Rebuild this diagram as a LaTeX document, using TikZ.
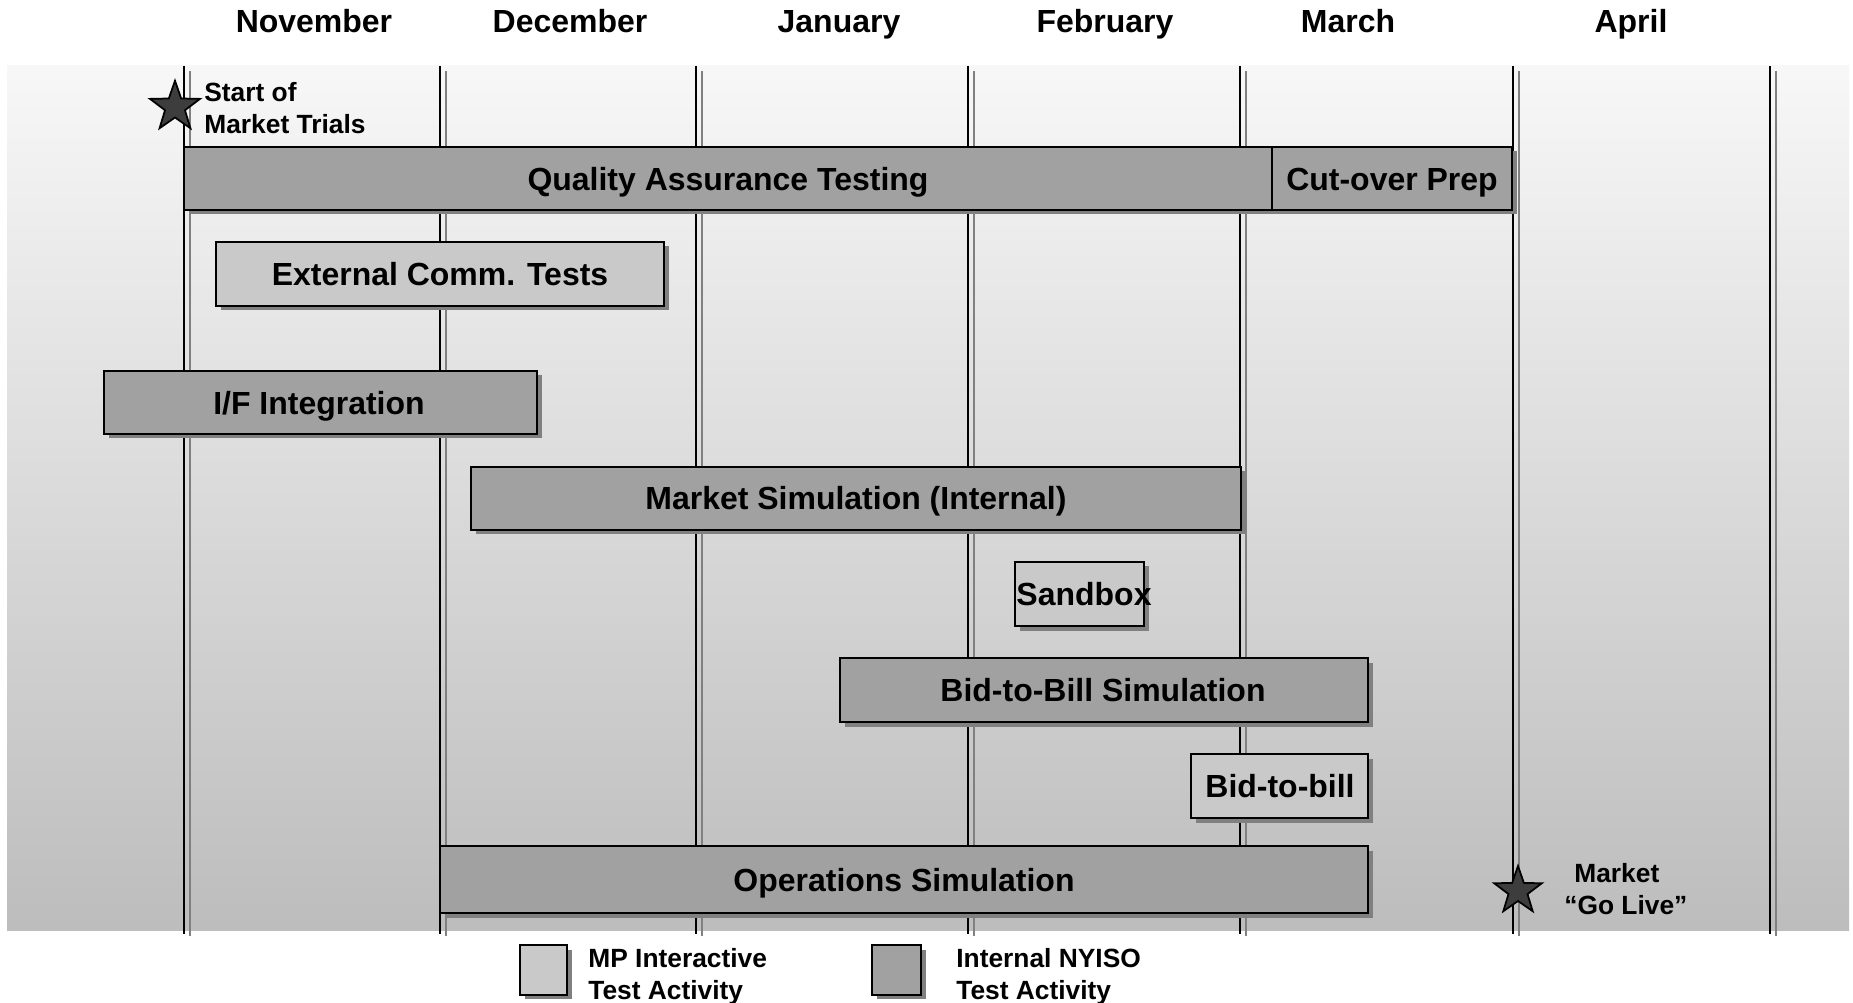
\documentclass[tikz,border=0pt]{standalone}
\usepackage{fontspec}
\setmainfont{Liberation Sans}
\usetikzlibrary{shapes.geometric,shadows}
\definecolor{barD}{gray}{0.63}
\definecolor{barL}{gray}{0.79}
\definecolor{panTop}{gray}{0.97}
\definecolor{panBot}{gray}{0.74}
\definecolor{starC}{gray}{0.24}

\begin{document}
\begin{tikzpicture}[x=0.02cm, y=-0.02cm,
    month/.style={font=\bfseries\fontsize{18.2}{22}\selectfont, inner sep=0pt, text height=13.1pt, text depth=0pt},
    bartext/.style={font=\bfseries\fontsize{18.2}{22}\selectfont, inner sep=0pt, text height=13.1pt, text depth=0pt},
    note/.style={font=\bfseries\fontsize{15}{18.2}\selectfont, align=left, anchor=west, inner sep=0pt},
    darkbar/.style={draw=black, line width=1.2pt, fill=barD,
        drop shadow={shadow xshift=0.09cm, shadow yshift=-0.09cm, fill=black!50, opacity=1}},
    lightbar/.style={darkbar, fill=barL},
    mstar/.style={star, star points=5, star point ratio=2.5, draw=black, line width=1pt, fill=starC, inner sep=0pt}]
    \useasboundingbox (0,0) rectangle (1853,1003);
    \fill[white] (0,0) rectangle (1853,1003);
    % panel
    \shade[top color=panTop, bottom color=panBot] (7,66) rectangle (1849,930);
    % month separators
    \foreach \mx in {184,440,696,968,1240,1513,1770} {
        \draw[black, line width=0.9pt] (\mx,66) -- (\mx,934);
        \draw[gray, line width=1pt] (\mx+6,71) -- (\mx+6,936);
    }
    % months
    \node[month] (nov) at (314,21) {November};
    \node[month] (dec) at (570,21) {December};
    \node[month] (jan) at (839,21) {January};
    \node[month] (feb) at (1105,21) {February};
    \node[month] (mar) at (1348,21) {March};
    \node[month] (apr) at (1631,21) {April};
    % activities
    \draw[darkbar] (184,147) rectangle (1272,210);
    \node[bartext] (qa) at (728,178.5) {Quality Assurance Testing};
    \draw[darkbar] (1272,147) rectangle (1512,210);
    \node[bartext] (cut) at (1392,178.5) {Cut-over Prep};
    \draw[lightbar] (216,242) rectangle (664,306);
    \node[bartext] (ext) at (440,274) {External Comm. Tests};
    \draw[darkbar] (104,371) rectangle (537,434);
    \node[bartext] (ifi) at (319,402.5) {I/F Integration};
    \draw[darkbar] (471,467) rectangle (1241,530);
    \node[bartext] (msim) at (856,498) {Market Simulation (Internal)};
    \draw[lightbar] (1015,562) rectangle (1144,626);
    \node[bartext] (sand) at (1084,594) {Sandbox};
    \draw[darkbar] (840,658) rectangle (1368,722);
    \node[bartext] (bbsim) at (1103,690) {Bid-to-Bill Simulation};
    \draw[lightbar] (1191,754) rectangle (1368,818);
    \node[bartext] (bb) at (1280,786) {Bid-to-bill};
    \draw[darkbar] (440,846) rectangle (1368,913);
    \node[bartext] (ops) at (904,880) {Operations Simulation};
    % milestones
    \node[mstar, minimum size=1.05cm] (s1) at (175,107) {};
    \node[note] (start) at (204,108) {Start of\\Market Trials};
    \node[mstar, minimum size=1cm] (s2) at (1518,891) {};
    \node[note] (live) at (1564,889) {\hspace{0.2cm}Market\\“Go Live”};
    % legend
    \node[lightbar, minimum width=0.94cm, minimum height=1cm, inner sep=0pt] (keyL) at (543.5,970) {};
    \node[note] (keyLt) at (588,977) {MP Interactive\\Test Activity};
    \node[darkbar, minimum width=0.98cm, minimum height=1cm, inner sep=0pt] (keyD) at (896.5,970) {};
    \node[note] (keyDt) at (956,977) {Internal NYISO\\Test Activity};
\end{tikzpicture}
\end{document}
